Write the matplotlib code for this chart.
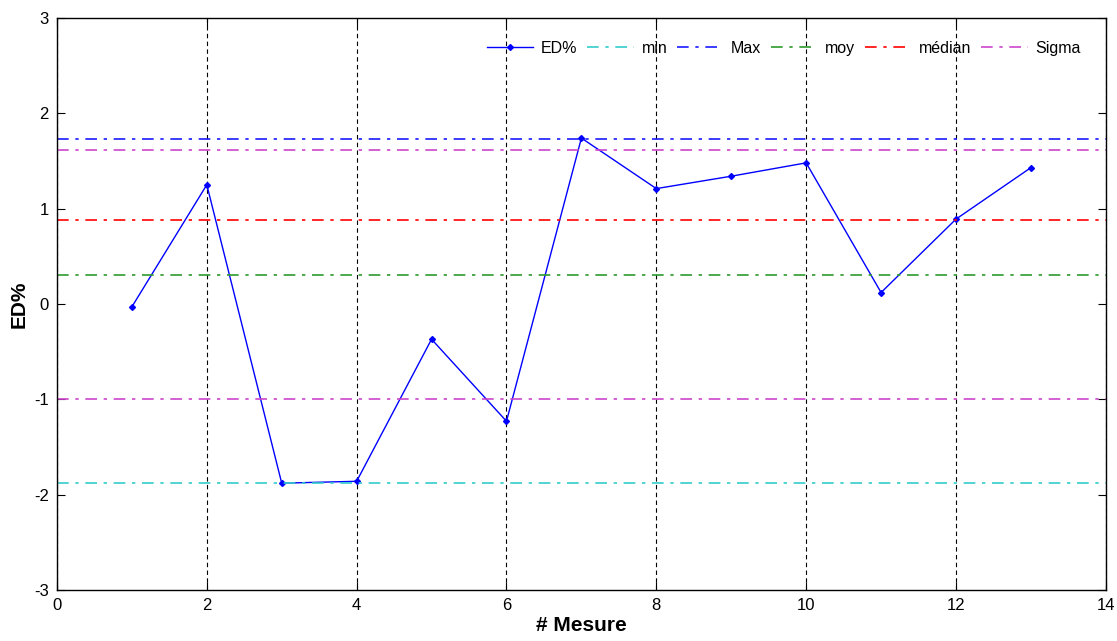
import matplotlib
matplotlib.use("Agg")
import matplotlib.pyplot as plt

plt.rcParams['font.family'] = ['Liberation Sans', 'DejaVu Sans']
plt.rcParams['axes.unicode_minus'] = False

# Mesures
mesures = [1, 2, 3, 4, 5, 6, 7, 8, 9, 10, 11, 12, 13]
ed = [-0.03, 1.25, -1.88, -1.86, -0.37, -1.23, 1.74, 1.21, 1.34, 1.48, 0.12, 0.89, 1.43]

# Lignes de reference
val_min = -1.88
val_max = 1.73
val_moy = 0.30
val_median = 0.88
sigma_haut = 1.61
sigma_bas = -1.00

x_ticks = [0, 2, 4, 6, 8, 10, 12, 14]
y_ticks = [-3, -2, -1, 0, 1, 2, 3]

fig = plt.figure(figsize=(11.17, 6.41), dpi=100)
ax = fig.add_axes([0.051, 0.0796, 0.939, 0.8924])

ax.plot(mesures, ed, color='blue', marker='D', markersize=3, linewidth=1, label='ED%')
dash = (0, (7, 4, 2, 4))
lw = 1.2
ax.axhline(val_min, color='#33cccc', linestyle=dash, linewidth=lw, label='min')
ax.axhline(val_max, color='#1a1aff', linestyle=dash, linewidth=lw, label='Max')
ax.axhline(val_moy, color='#2e9a2e', linestyle=dash, linewidth=lw, label='moy')
ax.axhline(val_median, color='red', linestyle=dash, linewidth=lw, label='médian')
ax.axhline(sigma_haut, color='#cc44cc', linestyle=dash, linewidth=lw, label='Sigma')
ax.axhline(sigma_bas, color='#cc44cc', linestyle=dash, linewidth=lw)

ax.set_xlim(0, 14)
ax.set_ylim(-3, 3)
ax.set_xticks(x_ticks)
ax.set_yticks(y_ticks)
ax.grid(axis='x', color='black', linestyle=(0, (4, 3)), linewidth=0.8)
ax.tick_params(direction='in', top=True, right=True, labelsize=12, length=6, pad=6)
for s in ax.spines.values():
    s.set_linewidth(1)

ax.set_xlabel('# Mesure', fontsize=15, fontweight='bold', labelpad=2)
ax.set_ylabel('ED%', fontsize=15, fontweight='bold')

ax.legend(loc='upper right', ncol=6, frameon=False, fontsize=11.5, handlelength=2.9,
          columnspacing=0.6, handletextpad=0.5, bbox_to_anchor=(0.99, 0.985))

fig.savefig('out.png', dpi=100)
